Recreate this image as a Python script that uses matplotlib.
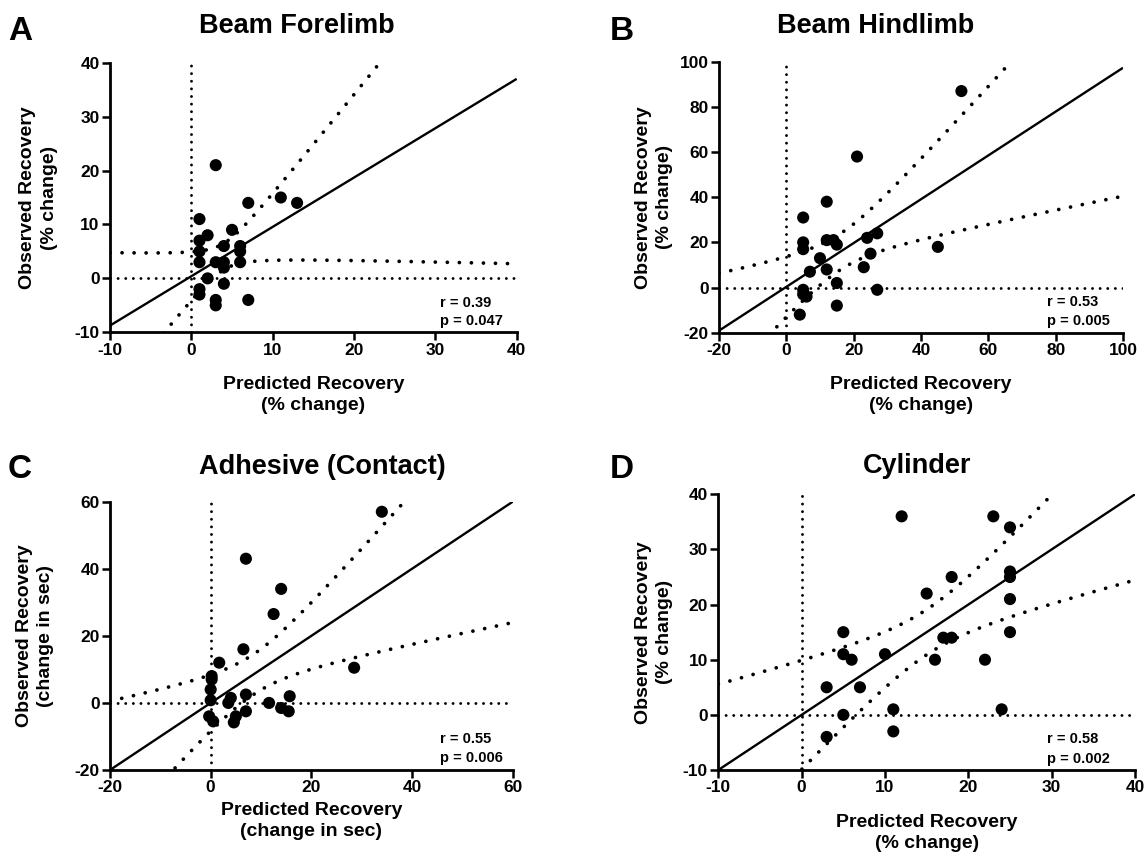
import numpy as np
import matplotlib
matplotlib.use("Agg")
import matplotlib.pyplot as plt

plt.rcParams['font.family'] = ['Liberation Sans', 'DejaVu Sans']
plt.rcParams['axes.unicode_minus'] = False

# ---------------- data ----------------
A_pred = [3, 7, 11, 13, 1, 2, 1, 5, 4, 6, 6, 1, 1, 3, 4, 4, 6, 2, 4, 1, 1, 3, 3, 7]
A_obs = [21, 14, 15, 14, 11, 8, 7, 9, 6, 6, 5, 5, 3, 3, 3, 2, 3, 0, -1, -2, -3, -4, -5, -4]

B_pred = [52, 21, 12, 5, 5, 5, 12, 14, 15, 24, 27, 25, 10, 7, 12, 23, 45, 15, 5, 6, 5, 27, 15, 4]
B_obs = [87, 58, 38, 31, 20, 17, 21, 21, 19, 22, 24, 15, 13, 7, 8, 9, 18, 2, -1, -4, -3, -1, -8, -12]

C_pred = [34, 7, 14, 12.5, 6.5, 1.7, 28.5, 0.2, 0.2, 0, 0, 4, 3.5, 7, 11.6, 15.7, 14, 15.5, 7, 5, 4.6, -0.3, 0.5]
C_obs = [57, 43, 34, 26.5, 16, 12, 10.5, 8, 7, 4, 0.8, 1.5, 0, 2.5, 0, 2, -1.5, -2.5, -2.5, -4, -5.8, -4, -5.5]

D_pred = [12, 23, 25, 25, 25, 25, 25, 18, 15, 17, 18, 16, 22, 10, 5, 5, 6, 3, 7, 5, 11, 11, 3, 24]
D_obs = [36, 36, 34, 26, 25, 21, 15, 25, 22, 14, 14, 10, 10, 11, 15, 11, 10, 5, 5, 0, 1, -3, -4, 1]

# regression line and 95% band parameters
fit_slope = [0.915, 0.97, 1.0, 1.0]
fit_intercept = [0.4, 0.3, 0.0, 0.0]
band_center_x = [4, 16, 8.5, 15]
band_min_halfwidth = [2.44, 8, 6, 4.1]
band_spread = [0.95, 0.67, 0.69, 0.6]

titles = ["Beam Forelimb", "Beam Hindlimb", "Adhesive (Contact)", "Cylinder"]
letters = ["A", "B", "C", "D"]
xlabels = ["Predicted Recovery\n(% change)", "Predicted Recovery\n(% change)",
           "Predicted Recovery\n(change in sec)", "Predicted Recovery\n(% change)"]
ylabels = ["Observed Recovery\n(% change)", "Observed Recovery\n(% change)",
           "Observed Recovery\n(change in sec)", "Observed Recovery\n(% change)"]
r_text = ["r = 0.39", "r = 0.53", "r = 0.55", "r = 0.58"]
p_text = ["p = 0.047", "p = 0.005", "p = 0.006", "p = 0.002"]

x_limits = [(-10, 40), (-20, 100), (-20, 60), (-10, 40)]
y_limits = [(-10, 40), (-20, 100), (-20, 60), (-10, 40)]
tick_steps = [10, 20, 20, 10]

preds = [A_pred, B_pred, C_pred, D_pred]
obs = [A_obs, B_obs, C_obs, D_obs]

# ---------------- layout ----------------
W, H = 1148, 859
fig = plt.figure(figsize=(W / 100, H / 100), dpi=100)

# axes boxes in pixels: left, right, top, bottom
boxes = [(110, 516.7, 62.7, 332.3), (719, 1123, 61.7, 332.7),
         (110, 512.7, 501.7, 770), (718.3, 1135, 494.3, 770)]
title_pos = [(297, 33), (876, 33), (322, 474), (917, 473)]
letter_pos = [(8, 40), (610, 40), (8, 478), (610, 478)]
ylabel_x = [-0.176, -0.16, -0.186, -0.154]
xlabel_y = [-0.232, -0.231, -0.19, -0.227]
stat_x = [0.811, 0.811, 0.82, 0.788]
r_y = [0.095, 0.098, 0.10, 0.097]
p_y = [0.027, 0.028, 0.031, 0.026]

for i in range(4):
    l, r, t, b = boxes[i]
    ax = fig.add_axes([l / W, 1 - b / H, (r - l) / W, (b - t) / H])
    x0, x1 = x_limits[i]
    y0, y1 = y_limits[i]
    ax.set_xlim(x0, x1)
    ax.set_ylim(y0, y1)
    ax.set_xticks(np.arange(x0, x1 + 0.1, tick_steps[i]))
    ax.set_yticks(np.arange(y0, y1 + 0.1, tick_steps[i]))
    for s in ['top', 'right']:
        ax.spines[s].set_visible(False)
    for s in ['left', 'bottom']:
        ax.spines[s].set_linewidth(2.0)
    ax.tick_params(direction='out', length=5.5, width=1.8, pad=2,
                   labelsize=12.5)
    for lab in ax.get_xticklabels() + ax.get_yticklabels():
        lab.set_fontweight('bold')

    # zero reference lines
    ax.axhline(0, color='black', lw=2.1, linestyle=(0, (0.01, 2.6)),
               dash_capstyle='round', zorder=1)
    ax.axvline(0, color='black', lw=2.1, linestyle=(0, (0.01, 2.6)),
               dash_capstyle='round', zorder=1)

    # regression line and confidence band
    xs = np.linspace(x0, x1, 600)
    yfit = fit_slope[i] * xs + fit_intercept[i]
    hw = np.sqrt(band_min_halfwidth[i] ** 2 +
                 (band_spread[i] * (xs - band_center_x[i])) ** 2)
    ax.plot(xs, yfit, color='black', lw=1.7, zorder=2, solid_capstyle='butt')
    for sign in (1, -1):
        ax.plot(xs, yfit + sign * hw, color='black', lw=2.7,
                linestyle=(0, (0.01, 3.2)), dash_capstyle='round', zorder=2)

    ax.scatter(preds[i], obs[i], s=76, color='black', edgecolors='none',
               zorder=3, clip_on=False)

    ax.text(stat_x[i], r_y[i], r_text[i], transform=ax.transAxes,
            fontsize=10.5, fontweight='bold', ha='left', va='baseline')
    ax.text(stat_x[i], p_y[i], p_text[i], transform=ax.transAxes,
            fontsize=10.5, fontweight='bold', ha='left', va='baseline')

    ax.text(0.5, xlabel_y[i], xlabels[i], transform=ax.transAxes,
            fontsize=14, fontweight='bold', ha='center', va='center',
            multialignment='center', linespacing=1.32)
    ax.text(ylabel_x[i], 0.5, ylabels[i], transform=ax.transAxes,
            fontsize=14, fontweight='bold', ha='center', va='center',
            rotation=90, multialignment='center', linespacing=1.32)

    tx, ty = title_pos[i]
    fig.text(tx / W, 1 - ty / H, titles[i], fontsize=19.5, fontweight='bold',
             ha='center', va='baseline')
    lx, ly = letter_pos[i]
    fig.text(lx / W, 1 - ly / H, letters[i], fontsize=24, fontweight='bold',
             ha='left', va='baseline')

fig.savefig("out.png", dpi=100)
